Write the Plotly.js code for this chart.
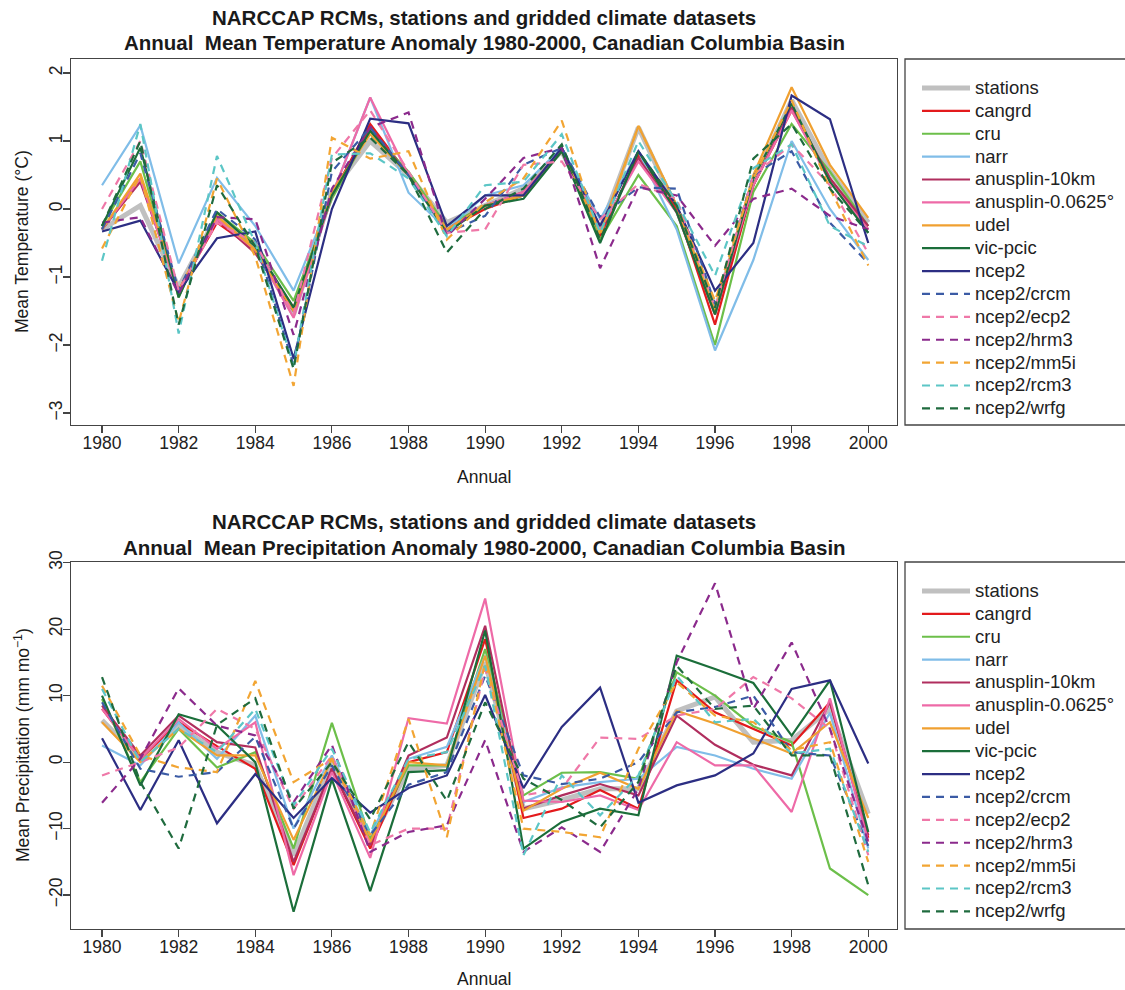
<!DOCTYPE html>
<html><head><meta charset="utf-8">
<script src="https://cdn.plot.ly/plotly-3.0.1.min.js"></script>
<style>html,body{margin:0;padding:0;background:#fff}</style>
</head><body><div id="chart" style="width:1125px;height:990px"></div>
<script>
// ---------- data ----------
const years = [1980,1981,1982,1983,1984,1985,1986,1987,1988,1989,1990,1991,1992,1993,1994,1995,1996,1997,1998,1999,2000];
const xTicks = [1980,1982,1984,1986,1988,1990,1992,1994,1996,1998,2000];
const seriesNames = ["stations","cangrd","cru","narr","anusplin-10km","anusplin-0.0625°","udel","vic-pcic","ncep2","ncep2/crcm","ncep2/ecp2","ncep2/hrm3","ncep2/mm5i","ncep2/rcm3","ncep2/wrfg"];

// Temperature anomaly (°C)
const tStations = [-0.3,0.05,-1.15,-0.1,-0.55,-1.55,0.25,1.0,0.5,-0.2,0.05,0.3,0.85,-0.3,1.2,0.0,-1.5,0.4,1.6,0.55,-0.2];
const tCangrd   = [-0.3,0.45,-1.2,-0.2,-0.6,-1.45,0.2,1.25,0.5,-0.3,0.0,0.2,0.9,-0.4,0.8,0.0,-1.7,0.35,1.45,0.45,-0.3];
const tCru      = [-0.25,0.7,-1.3,-0.05,-0.5,-1.35,0.15,1.15,0.55,-0.25,0.05,0.2,0.9,-0.45,0.5,-0.25,-2.0,0.25,1.25,0.55,-0.25];
const tNarr     = [0.35,1.23,-0.8,0.46,-0.25,-1.2,0.2,1.64,0.24,-0.3,0.2,0.35,0.9,-0.15,0.85,-0.3,-2.08,-0.75,1.0,0.0,-0.75];
const tAnu10    = [-0.3,0.4,-1.2,-0.15,-0.65,-1.5,0.2,1.2,0.5,-0.3,0.05,0.25,0.85,-0.35,0.75,-0.05,-1.55,0.35,1.5,0.45,-0.25];
const tAnu0625  = [-0.3,0.45,-1.25,-0.15,-0.6,-1.6,0.2,1.64,0.5,-0.3,0.05,0.25,0.85,-0.3,0.7,-0.05,-1.5,0.35,1.45,0.4,-0.3];
const tUdel     = [-0.3,0.52,-1.2,-0.1,-0.6,-1.5,0.25,1.1,0.5,-0.3,0.05,0.2,0.85,-0.35,1.22,0.05,-1.5,0.5,1.79,0.65,-0.13];
const tVic      = [-0.25,0.9,-1.3,-0.05,-0.55,-1.45,0.2,1.15,0.5,-0.35,0.05,0.15,0.85,-0.5,0.85,-0.05,-1.55,0.45,1.55,0.4,-0.35];
const tNcep2    = [-0.33,-0.17,-1.22,-0.43,-0.33,-2.2,0.0,1.33,1.26,-0.25,0.2,0.2,0.9,-0.25,0.85,0.05,-1.2,-0.5,1.67,1.32,-0.5];
const tCrcm     = [-0.3,0.82,-1.2,0.0,-0.45,-2.3,0.55,1.2,0.5,-0.35,-0.1,0.65,0.9,-0.12,0.32,0.3,-1.4,0.5,0.85,-0.2,-0.8];
const tEcp2     = [0.0,1.0,-1.2,-0.2,-0.5,-1.55,0.75,1.45,0.55,-0.35,-0.3,0.65,0.7,-0.15,0.37,0.15,-1.45,0.5,0.95,0.35,-0.65];
const tHrm3     = [-0.2,-0.12,-1.25,-0.12,-0.15,-1.85,0.3,1.2,1.42,-0.4,0.15,0.75,0.9,-0.87,0.32,0.2,-0.54,0.15,0.3,-0.1,-0.3];
const tMm5i     = [-0.58,0.5,-1.67,0.45,-0.7,-2.6,1.05,0.74,0.85,-0.45,0.1,0.45,1.3,-0.4,1.22,0.05,-1.35,0.45,1.6,0.3,-0.83];
const tRcm3     = [-0.76,1.25,-1.83,0.78,-0.5,-2.3,0.8,0.82,0.45,-0.4,0.35,0.4,1.1,-0.35,1.0,0.1,-0.98,0.6,0.95,-0.25,-0.55];
const tWrfg     = [-0.25,1.0,-1.7,0.35,-0.55,-2.35,0.68,1.05,0.5,-0.64,0.0,0.3,0.95,-0.45,0.85,0.05,-1.45,0.74,1.25,0.3,-0.35];

// Precipitation anomaly (mm/month)
const pStations = [6.3,0.5,5.5,1.5,-0.5,-14,0,-12,-1,-0.5,15,-7,-5.7,-4,-4,7.7,9.8,3,3.3,8,-7.8];
const pCangrd   = [8,0.5,6,2.4,-1,-15.5,-1,-13,0,1.5,18.5,-8.4,-7,-4.2,-7,12.3,7.5,5,2.5,9,-11.4];
const pCru      = [9.5,-3,5,-0.8,1.5,-13,5.9,-11.5,-0.5,-0.5,17,-5,-1.6,-1.5,-2.5,13.5,10,5.4,3,-16,-20];
const pNarr     = [2.5,-0.5,6,0.5,7,-10,1,-11,0.5,2.3,16,-6,-3.8,-3,-2.5,2.3,1,-1,-2.5,7.4,-13];
const pAnu10    = [8.5,1,7,3,2.2,-15,-1,-12.5,1,3.7,20.5,-7,-5,-3.3,-5,7,2.6,-0.4,-2,9,-11];
const pAnu0625  = [8,0.5,6.5,2,6,-17,-1.5,-14.4,6.6,5.8,24.6,-5.8,-6,-5,-7.2,3,-0.5,-0.5,-7.5,9.6,-12];
const pUdel     = [6,0,5,1,1,-11.7,0.5,-12,0,-0.5,16,-7.3,-4,-1.6,-4,7.7,5.8,3.6,1.3,6,-8.4];
const pVic      = [10,-3.5,7.2,5.5,0,-22.5,-2.6,-19.4,-1.5,-1.2,19.8,-13,-9,-7,-8,16,14,11.9,4,12.3,-10.5];
const pNcep2    = [3.6,-7.2,3.3,-9.2,-1.8,-8.4,-2.4,-7.6,-3.9,-2,10.1,-3.9,5.3,11.2,-6.1,-3.5,-2,1.3,11,12.3,-0.2];
const pCrcm     = [9,-1,-2.2,-1.5,3.8,-10,-0.5,-11,-3.4,-1.5,13,-2,-3.3,-2.5,0,7.5,8.3,10,1.5,1,-12.6];
const pEcp2     = [-2,0,2.2,8,5,-7,1,-12.5,-10,-10,14,-5,-4,3.7,3.5,7,8,12.8,9.6,5,-14];
const pHrm3     = [-6.1,0.5,11.1,5.5,4,-6,2.6,-13.5,-10.5,-9.5,3.3,-13.5,-9.8,-13.5,-4,15,26.9,8,18,5,-12];
const pMm5i     = [11.5,1,-0.8,-1.5,12.2,-3,0.5,-11,6.5,-11.3,15,-10,-10.5,-11.3,2,12,7,6,1.8,3,-15];
const pRcm3     = [11,0,5,1.5,8,-6.5,2,-10.6,0.5,1.5,14.5,-14,-2,-8,-2,13,6,6.5,1.3,2,-13.5];
const pWrfg     = [12.8,-3,-13,5.6,9.6,-7,0,-8.6,3,-5.8,9,-2.5,-5.7,-9.8,-3,14.5,8,8.5,1,1,-18.5];

const tempSeries = [tStations,tCangrd,tCru,tNarr,tAnu10,tAnu0625,tUdel,tVic,tNcep2,tCrcm,tEcp2,tHrm3,tMm5i,tRcm3,tWrfg];
const precSeries = [pStations,pCangrd,pCru,pNarr,pAnu10,pAnu0625,pUdel,pVic,pNcep2,pCrcm,pEcp2,pHrm3,pMm5i,pRcm3,pWrfg];

// ---------- styles ----------
const colors = ["#c0c0c0","#e31a1c","#6cbf4a","#80bde8","#b02e5e","#ee6aa7","#f0a030","#1b6e3a","#2c2e83","#3b5ba5","#ef78a8","#8b2a8c","#f2a533","#5cc6c6","#1f6b3e"];
const dashed = [false,false,false,false,false,false,false,false,false,true,true,true,true,true,true];
const FONT = "Liberation Sans, Arial, Helvetica, sans-serif";

function mkTraces(seriesArr, xa, ya, legendId){
  return seriesArr.map((vals,i)=>({
    type:"scatter", mode:"lines", x:years, y:vals, xaxis:xa, yaxis:ya,
    name:'<span style="font-size:18.5px">'+seriesNames[i]+'</span>',
    legend:legendId,
    line:{color:colors[i], width: i===0?5:2.2, dash: dashed[i]?"8px,6px":"solid"},
    hoverinfo:"skip"
  }));
}
const traces = mkTraces(tempSeries,"x","y","legend").concat(mkTraces(precSeries,"x2","y2","legend2"));

const H=990, W=1125;
const py = px => 1 - px/H;
const plotL = 71/W, plotR = 897/W;

const axX = {
  range:[1979.19,2000.75], tickvals:xTicks, ticks:"outside", ticklen:7, tickcolor:"#444", tickwidth:1.2,
  ticklabelstandoff:-5,
  showline:true, mirror:true, linecolor:"#444", linewidth:1.3, showgrid:false, zeroline:false,
  tickfont:{family:FONT,size:17.5,color:"#222"}, domain:[plotL,plotR], fixedrange:true
};
const axY = {
  ticks:"outside", ticklen:7, tickcolor:"#444", tickwidth:1.2, tickangle:-90,
  ticklabelstandoff:-6,
  showline:true, mirror:true, linecolor:"#444", linewidth:1.3, showgrid:false, zeroline:false,
  tickfont:{family:FONT,size:17.5,color:"#222"}, fixedrange:true
};

function ann(text, xpx, ypx, size, extra){
  return Object.assign({text:text, x:xpx/W, y:py(ypx), xref:"paper", yref:"paper", xanchor:"center", yanchor:"middle",
    showarrow:false, font:{family:FONT,size:size,color:"#1a1a1a"}}, extra||{});
}

const layout = {
  width:W, height:H, margin:{l:0,r:0,t:0,b:0},
  paper_bgcolor:"#fff", plot_bgcolor:"#fff", showlegend:true,
  xaxis:Object.assign({}, axX, {anchor:"y"}),
  yaxis:Object.assign({}, axY, {anchor:"x", range:[-3.176,2.206], tickvals:[-3,-2,-1,0,1,2], domain:[py(425),py(59)]}),
  xaxis2:Object.assign({}, axX, {anchor:"y2"}),
  yaxis2:Object.assign({}, axY, {anchor:"x2", range:[-25.1,30.1], tickvals:[-20,-10,0,10,20,30], domain:[py(929),py(562)]}),
  legend:{x:917/W, xanchor:"left", y:py(71.5), yanchor:"top", bgcolor:"rgba(0,0,0,0)", borderwidth:0,
          font:{family:FONT,size:15.3,color:"#222"}, itemwidth:48, tracegroupgap:0},
  legend2:{x:917/W, xanchor:"left", y:py(574.5), yanchor:"top", bgcolor:"rgba(0,0,0,0)", borderwidth:0,
          font:{family:FONT,size:15.3,color:"#222"}, itemwidth:48, tracegroupgap:0},
  shapes:[
    {type:"rect", xref:"paper", yref:"paper", x0:905/W, x1:1.05, y0:py(425), y1:py(59), line:{color:"#444",width:1.3}},
    {type:"rect", xref:"paper", yref:"paper", x0:905/W, x1:1.05, y0:py(929), y1:py(562), line:{color:"#444",width:1.3}}
  ],
  annotations:[
    ann("<b>NARCCAP RCMs, stations and gridded climate datasets</b>", 484, 17, 20.5),
    ann("<b>Annual  Mean Temperature Anomaly 1980-2000, Canadian Columbia Basin</b>", 484, 42, 20.5),
    ann("Annual", 484, 477, 17.5),
    ann("Mean Temperature (°C)", 22, 242, 17.5, {textangle:-90}),
    ann("<b>NARCCAP RCMs, stations and gridded climate datasets</b>", 484, 521, 20.5),
    ann("<b>Annual  Mean Precipitation Anomaly 1980-2000, Canadian Columbia Basin</b>", 484, 547, 20.5),
    ann("Annual", 484, 979, 17.5),
    ann("Mean Precipitation (mm mo<sup>−1</sup>)", 22, 745, 17.5, {textangle:-90})
  ]
};

Plotly.newPlot("chart", traces, layout, {displayModeBar:false, staticPlot:true});
</script></body></html>
